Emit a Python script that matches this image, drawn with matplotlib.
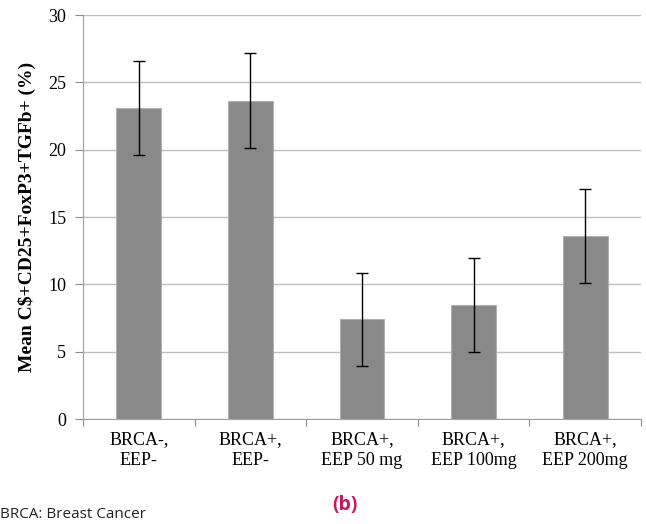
import matplotlib
matplotlib.use("Agg")
import matplotlib.pyplot as plt
import numpy as np

# Data
groups = ["BRCA-,\nEEP-", "BRCA+,\nEEP-", "BRCA+,\nEEP 50 mg", "BRCA+,\nEEP 100mg", "BRCA+,\nEEP 200mg"]
means = [23.1, 23.65, 7.4, 8.45, 13.6]
errors = [3.5, 3.5, 3.45, 3.5, 3.5]
y_ticks = [0, 5, 10, 15, 20, 25, 30]

fig = plt.figure(figsize=(6.46, 5.24), dpi=100)
ax = fig.add_axes([83 / 646, 1 - 419 / 524, (641 - 83) / 646, (419 - 15) / 524])

x = np.arange(len(groups))
ax.bar(x, means, width=0.4, color="#898989", edgecolor="#b0b0b0", linewidth=0.8, zorder=2)
ax.errorbar(x, means, yerr=errors, fmt="none", ecolor="black", elinewidth=1.0,
            capsize=4, capthick=1.0, zorder=3)

ax.set_xlim(-0.5, len(groups) - 0.5)
ax.set_ylim(0, 30)
ax.set_yticks(y_ticks)
ax.set_yticklabels([str(t) for t in y_ticks], fontfamily="Liberation Serif", fontsize=13)
ax.yaxis.grid(True, color="#bdbdbd", linewidth=1.0, zorder=0)
ax.set_axisbelow(True)

# category ticks at boundaries, labels centered
ax.set_xticks(np.arange(-0.5, len(groups), 1.0))
ax.set_xticklabels([])
ax.set_xticks(x, minor=True)
ax.set_xticklabels(groups, minor=True, fontfamily="Liberation Serif", fontsize=13,
                   linespacing=1.3)
ax.tick_params(axis="x", which="minor", length=0, pad=9)
ax.tick_params(axis="x", which="major", length=5, color="#8c8c8c", direction="out")
ax.tick_params(axis="y", length=6, color="#8c8c8c", pad=6)

for side in ["top", "right"]:
    ax.spines[side].set_visible(False)
ax.spines["left"].set_color("#a0a0a0")
ax.spines["bottom"].set_color("#a0a0a0")

ax.set_ylabel("Mean C$+CD25+FoxP3+TGFb+ (%)", fontfamily="Liberation Serif",
              fontweight="bold", fontsize=14, labelpad=9)

fig.text(0.0, 1 - 515 / 524, "BRCA: Breast Cancer", ha="left", va="center",
         fontfamily="Open Sans", fontsize=11, color="#222222")
fig.text(345 / 646, 1 - 505 / 524, "(b)", ha="center", va="center",
         fontfamily="Open Sans", fontweight="bold", fontsize=14, color="#c8195f")

fig.savefig("out.png", dpi=100)
